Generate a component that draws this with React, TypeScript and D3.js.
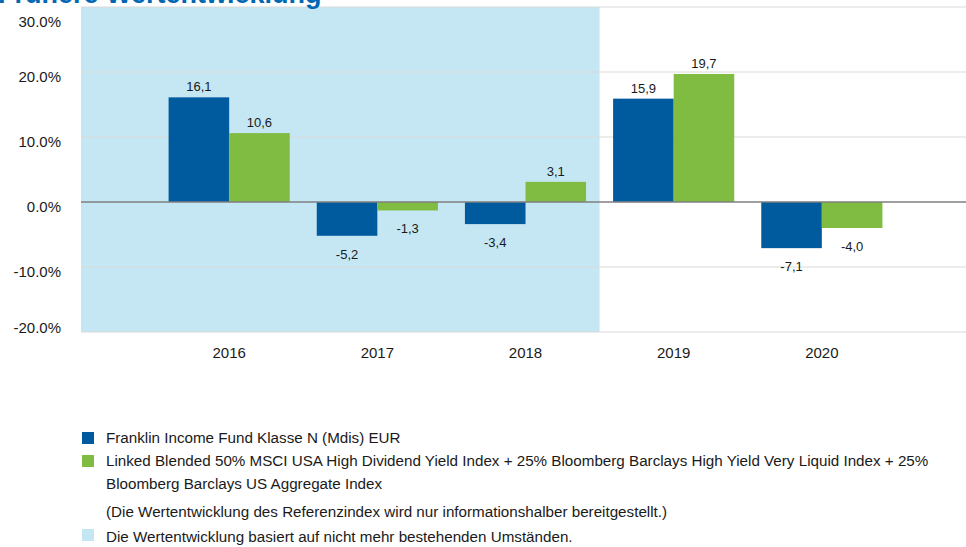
import React from "react";
import * as d3 from "d3";

const years = ["2016", "2017", "2018", "2019", "2020"];
const fundValues = [16.1, -5.2, -3.4, 15.9, -7.1];
const indexValues = [10.6, -1.3, 3.1, 19.7, -4.0];
const yTicks = [30, 20, 10, 0, -10, -20];
const shadedYears = ["2016", "2017", "2018"];
const seriesNames = [
  "Franklin Income Fund Klasse N (Mdis) EUR",
  "Linked Blended 50% MSCI USA High Dividend Yield Index + 25% Bloomberg Barclays High Yield Very Liquid Index + 25%",
];
const seriesName2Cont = "Bloomberg Barclays US Aggregate Index";
const noteText = "(Die Wertentwicklung des Referenzindex wird nur informationshalber bereitgestellt.)";
const shadedText = "Die Wertentwicklung basiert auf nicht mehr bestehenden Umständen.";
const title = "Frühere Wertentwicklung";

const W = 966;
const H = 547;
const BLUE = "#005A9E";
const GREEN = "#80BC41";
const SHADE = "#C5E7F3";
const FONT = "'Liberation Sans', Arial, sans-serif";

export default function App() {
  const left = 81;
  const right = 970;
  const top = 7;
  const bottom = 332;
  const x = d3.scaleBand<string>().domain(years).range([left, right]).paddingOuter(0.5).paddingInner(0);
  const inner = d3.scaleBand<string>().domain(["fund", "index"]).range([0, x.bandwidth()]).paddingOuter(0.223).paddingInner(0);
  const y = d3.scaleLinear().domain([-20, 30]).range([bottom, top]);
  const fmt = (v: number) => v.toFixed(1).replace(".", ",");
  const shadeEnd = (x(shadedYears[shadedYears.length - 1]) as number) + x.bandwidth();
  const labelY = (t: number) => {
    const c = Math.min(Math.max(y(t) + 5, 22), 328);
    return c + 5;
  };

  const series = [
    { key: "fund", values: fundValues, color: BLUE },
    { key: "index", values: indexValues, color: GREEN },
  ];

  return (
    <svg width={W} height={H} style={{ position: "absolute", left: 0, top: 0, fontFamily: FONT }}>
      <rect x={left} y={top} width={shadeEnd - left} height={bottom - top} fill={SHADE} />
      {yTicks.map((t) => (
        <g key={t}>
          {t !== 0 && (
            <line x1={left} x2={W} y1={y(t)} y2={y(t)} stroke="#D9D9D9" strokeWidth={1} />
          )}
          <text x={61} y={labelY(t)} textAnchor="end" fontSize={15} fill="#1a1a1a">
            {t.toFixed(1)}%
          </text>
        </g>
      ))}
      {series.map((s) =>
        years.map((yr, i) => {
          const v = s.values[i];
          const bx = (x(yr) as number) + (inner(s.key) as number);
          const bw = inner.bandwidth();
          const y0 = y(0);
          const y1 = y(v);
          return (
            <g key={s.key + yr}>
              <rect x={bx} y={Math.min(y0, y1)} width={bw} height={Math.abs(y1 - y0)} fill={s.color} />
              <text
                x={bx + bw / 2}
                y={v >= 0 ? y1 - 6 : y1 + 23}
                textAnchor="middle"
                fontSize={13}
                fill="#1a1a1a"
              >
                {fmt(v)}
              </text>
            </g>
          );
        })
      )}
      <line x1={left} x2={W} y1={y(0)} y2={y(0)} stroke="#7F7F7F" strokeWidth={1.3} />
      {years.map((yr) => (
        <text key={yr} x={(x(yr) as number) + x.bandwidth() / 2} y={358} textAnchor="middle" fontSize={15} fill="#1a1a1a">
          {yr}
        </text>
      ))}
      <text x={-2} y={3} fontSize={27} fontWeight="bold" fill="#0068B3">
        {title}
      </text>
      <g fontSize={15.2} fill="#1a1a1a">
        <rect x={82} y={432} width={12} height={12} fill={BLUE} />
        <text x={106} y={443}>{seriesNames[0]}</text>
        <rect x={82} y={455} width={12} height={12} fill={GREEN} />
        <text x={106} y={466}>{seriesNames[1]}</text>
        <text x={106} y={489}>{seriesName2Cont}</text>
        <text x={106} y={517}>{noteText}</text>
        <rect x={82} y={529} width={12} height={12} fill={SHADE} />
        <text x={106} y={542}>{shadedText}</text>
      </g>
    </svg>
  );
}
